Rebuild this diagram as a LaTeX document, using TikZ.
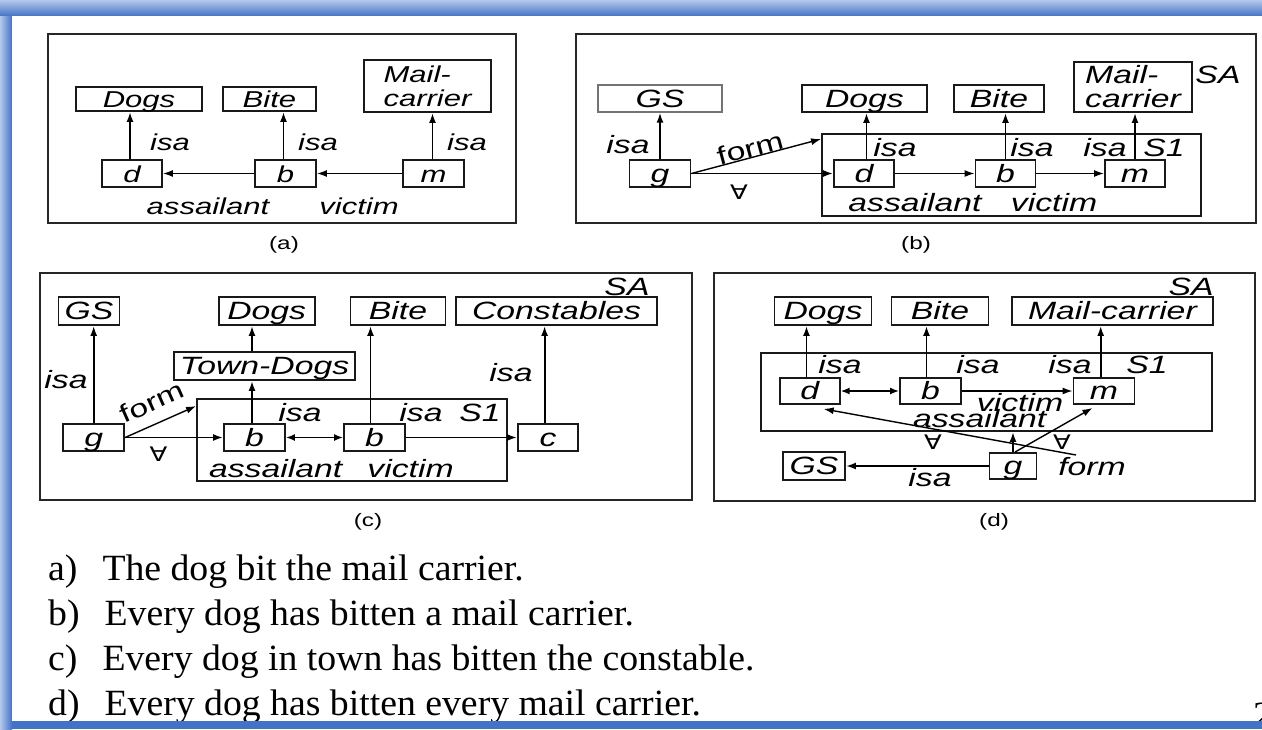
\documentclass[tikz,border=0pt]{standalone}
\usepackage{fontspec}
\setmainfont{Liberation Serif}
\newfontfamily\dfont[FakeStretch=1.35]{Liberation Sans}
\newfontfamily\symfont[FakeStretch=1.3]{DejaVu Sans}
\newfontfamily\sentfont[FakeStretch=1.02]{Liberation Serif}
\usetikzlibrary{arrows.meta,calc}
\definecolor{frameblue}{HTML}{4472C4}
\definecolor{framelight}{HTML}{B4C8EC}
\def\pfs{25}
\begin{document}
\begin{tikzpicture}[x=1pt,y=-1pt,
  bx/.style={draw=black!90, line width=1.9pt, inner sep=0pt, text height=19.5pt, text depth=2pt, font=\dfont\itshape\fontsize{\pfs}{25}\selectfont},
  bx2/.style={draw=black!90, line width=1.9pt, inner sep=0pt, align=left, font=\dfont\itshape\fontsize{\pfs}{24}\selectfont},
  lbl/.style={inner sep=0pt, font=\dfont\itshape\fontsize{\pfs}{25}\selectfont},
  ulbl/.style={inner sep=0pt, font=\dfont\fontsize{\pfs}{25}\selectfont},
  fa/.style={inner sep=0pt, font=\symfont\fontsize{20}{22}\selectfont},
  captxt/.style={inner sep=0pt, font=\dfont\fontsize{18}{20}\selectfont},
  panel/.style={draw=black!85, line width=1.6pt},
  sbox/.style={draw=black!90, line width=1.9pt, inner sep=0pt},
  arr/.style={line width=1.8pt, -{Latex[length=10pt,width=7pt]}},
  tarr/.style={line width=1.4pt, -{Latex[length=10pt,width=7pt]}},
  darr/.style={line width=1.5pt, {Latex[length=9pt,width=7pt]}-{Latex[length=9pt,width=7pt]}},
  sent/.style={anchor=base west, inner sep=0pt, font=\sentfont\fontsize{37}{40}\selectfont}
]
\useasboundingbox (0,0) rectangle (1262,729);
% frame
\fill[frameblue] (0,0) rectangle (1262,729);
\shade[top color=framelight, bottom color=frameblue] (0,0) rectangle (1262,16);
\shade[left color=framelight, right color=frameblue] (0,16) rectangle (12,729);
\fill[white] (12,16) rectangle (1262,721);

% ---------------- panel (a)
\def\pfs{23}
\draw[panel] (48,34) rectangle (516,223);
\node[bx, minimum width=126pt, minimum height=24pt] (aDogs) at (139,99) {Dogs};
\node[bx, minimum width=93pt, minimum height=24pt] (aBite) at (269.5,99) {Bite};
\node[bx2, minimum width=127pt, minimum height=52pt] (aMail) at (427.5,86) {Mail-\\carrier};
\node[bx, minimum width=60pt, minimum height=27pt] (ad) at (132,173.5) {d};
\node[bx, minimum width=61pt, minimum height=27pt] (ab) at (285.5,173.5) {b};
\node[bx, minimum width=61pt, minimum height=27pt] (am) at (433.5,173.5) {m};
\draw[arr] ([xshift=-2pt]ad.north) -- ([xshift=-2pt]ad.north |- aDogs.south);
\draw[arr] ([xshift=-2pt]ab.north) -- ([xshift=-2pt]ab.north |- aBite.south);
\draw[arr] ([xshift=-1pt]am.north) -- ([xshift=-1pt]am.north |- aMail.south);
\node[lbl] (aisa1) at (170,142) {isa};
\node[lbl] (aisa2) at (318,142) {isa};
\node[lbl] (aisa3) at (467,142) {isa};
\draw[tarr] (ab.west) -- (ad.east);
\draw[tarr] (am.west) -- (ab.east);
\node[lbl] (aass) at (208,206) {assailant};
\node[lbl] (avic) at (359,206) {victim};
\node[captxt] (capa) at (284,245) {(a)};

% ---------------- panel (b)
\def\pfs{25}
\draw[panel] (576,34) rectangle (1256,223);
\node[bx, draw=black!55, line width=1.3pt, minimum width=124pt, minimum height=27pt] (bGS) at (660,98.5) {GS};
\node[bx, minimum width=125pt, minimum height=27pt] (bDogs) at (864.4,98.5) {Dogs};
\node[bx, minimum width=90pt, minimum height=27pt] (bBite) at (999,98.5) {Bite};
\node[bx2, minimum width=118pt, minimum height=50pt] (bMail) at (1133,87) {Mail-\\carrier};
\node[lbl] (bSA) at (1218,75) {SA};
\node[sbox, minimum width=379pt, minimum height=82pt] (bS1) at (1011.5,175) {};
\node[lbl] (bS1l) at (1164,148) {S1};
\node[bx, minimum width=61pt, minimum height=27pt] (bg) at (660,173.5) {g};
\node[bx, minimum width=60pt, minimum height=27pt] (bd) at (864,173.5) {d};
\node[bx, minimum width=60pt, minimum height=27pt] (bb) at (1005.5,173.5) {b};
\node[bx, minimum width=60pt, minimum height=27pt] (bm) at (1135,173.5) {m};
\draw[arr] (bg.north) -- (bg.north |- bGS.south);
\draw[arr] ([xshift=2.5pt]bd.north) -- ([xshift=2.5pt]bd.north |- bDogs.south);
\draw[arr] (bb.north) -- (bb.north |- bBite.south);
\draw[arr] (bm.north) -- (bm.north |- bMail.south);
\node[lbl] (bisa0) at (628,145) {isa};
\node[lbl] (bisa1) at (895,148) {isa};
\node[lbl] (bisa2) at (1032,148) {isa};
\node[lbl] (bisa3) at (1105,148) {isa};
\coordinate (bfe) at ($(bS1.north west)+(0,6)$);
\draw[tarr] (bg.east) -- (bfe);
\node[ulbl, rotate=15] (bform) at (750,148) {form};
\draw[arr] (bg.east) -- (bd.west);
\node[fa] (bfa) at (739,192) {∀};
\draw[tarr] (bd.east) -- (bb.west);
\draw[tarr] (bb.east) -- (bm.west);
\node[lbl] (bass) at (915,203) {assailant};
\node[lbl] (bvic) at (1054,203) {victim};
\node[captxt] (capb) at (916,245) {(b)};

% ---------------- panel (c)
\draw[panel] (40,273) rectangle (692,500);
\node[lbl] (cSA) at (627,287) {SA};
\node[bx, minimum width=61pt, minimum height=28pt] (cGS) at (89,311) {GS};
\node[bx, minimum width=96pt, minimum height=28pt] (cDogs) at (266.7,311) {Dogs};
\node[bx, minimum width=95pt, minimum height=28pt] (cBite) at (398,311) {Bite};
\node[bx, minimum width=201pt, minimum height=28pt] (cCon) at (556.5,311) {Constables};
\node[bx, minimum width=181pt, minimum height=28pt] (cTD) at (264.5,366) {Town-Dogs};
\node[sbox, minimum width=310pt, minimum height=82pt] (cS1) at (352,440) {};
\node[lbl] (cisa1) at (300,413) {isa};
\node[lbl] (cisa2) at (421,413) {isa};
\node[lbl] (cS1l) at (480,413) {S1};
\node[bx, minimum width=61pt, minimum height=27pt] (cg) at (93.7,437.5) {g};
\node[bx, minimum width=61pt, minimum height=27pt] (cb1) at (254.5,437.5) {b};
\node[bx, minimum width=61pt, minimum height=27pt] (cb2) at (374.5,437.5) {b};
\node[bx, minimum width=60pt, minimum height=27pt] (cc) at (548,437.5) {c};
\draw[arr] (cg.north) -- (cg.north |- cGS.south);
\draw[arr] ([xshift=-2.5pt]cb1.north) -- ([xshift=-2.5pt]cb1.north |- cTD.south);
\draw[arr] ([xshift=-2.5pt]cb1.north |- cTD.north) -- ([xshift=-2.5pt]cb1.north |- cDogs.south);
\draw[arr] ([xshift=-4pt]cb2.north) -- ([xshift=-4pt]cb2.north |- cBite.south);
\draw[arr] ([xshift=-3.4pt]cc.north) -- ([xshift=-3.4pt]cc.north |- cCon.south);
\node[lbl] (cisa0) at (66,380) {isa};
\node[lbl] (cisa3) at (511,373) {isa};
\coordinate (cfe) at ($(cS1.north west)+(0,8)$);
\draw[tarr] (cg.east) -- (cfe);
\node[ulbl, rotate=24] (cform) at (152,402) {form};
\draw[arr] (cg.east) -- (cb1.west);
\node[fa] (cfa) at (158.5,454) {∀};
\draw[darr] (cb1.east) -- (cb2.west);
\draw[arr] (cb2.east) -- (cc.west);
\node[lbl] (cass) at (275.7,469) {assailant};
\node[lbl] (cvic) at (410.6,469) {victim};
\node[captxt] (capc) at (368,522) {(c)};

% ---------------- panel (d)
\draw[panel] (714,273) rectangle (1255,501);
\node[lbl] (dSA) at (1191,287) {SA};
\node[bx, minimum width=97pt, minimum height=28pt] (dDogs) at (823,311) {Dogs};
\node[bx, minimum width=97pt, minimum height=28pt] (dBite) at (940,311) {Bite};
\node[bx, minimum width=201pt, minimum height=28pt] (dMail) at (1112.4,311) {Mail-carrier};
\node[sbox, minimum width=451pt, minimum height=78pt] (dS1) at (986.5,392) {};
\node[lbl] (dS1l) at (1147,365) {S1};
\node[bx, minimum width=60pt, minimum height=26pt] (dd) at (809.7,391) {d};
\node[bx, minimum width=61pt, minimum height=26pt] (db) at (930.5,391) {b};
\node[bx, minimum width=61pt, minimum height=26pt] (dm) at (1104,391) {m};
\draw[arr] ([xshift=-3.2pt]dd.north) -- ([xshift=-3.2pt]dd.north |- dDogs.south);
\draw[arr] ([xshift=-4pt]db.north) -- ([xshift=-4pt]db.north |- dBite.south);
\draw[arr] ([xshift=-3.3pt]dm.north) -- ([xshift=-3.3pt]dm.north |- dMail.south);
\node[lbl] (disa1) at (840,365) {isa};
\node[lbl] (disa2) at (978,365) {isa};
\node[lbl] (disa3) at (1070,365) {isa};
\draw[darr] (dd.east) -- (db.west);
\draw[tarr] (db.east) -- (dm.west);
\node[lbl] (dvic) at (1020,403) {victim};
\node[lbl] (dass) at (979.6,419) {assailant};
\node[bx, minimum width=47pt, minimum height=26pt] (dg) at (1013,466) {g};
\node[bx, minimum width=62pt, minimum height=28pt] (dGS) at (814,466) {GS};
\draw[arr] (dg.west) -- (dGS.east);
\node[lbl] (disa0) at (930,478) {isa};
\draw[arr] (dg.north) -- (dg.north |- dS1.south);
\coordinate (dfe) at (1076,455);
\draw[tarr] (dfe) -- ($(dd.south)+(14,4)$);
\draw[tarr] ($(dg.north)+(2,0)$) -- ($(dm.south)+(-11.5,3)$);
\node[fa] (dfa1) at (933,442) {∀};
\node[fa] (dfa2) at (1062,442) {∀};
\node[lbl] (dform) at (1092,467) {form};
\node[captxt] (capd) at (994,522) {(d)};

% ---------------- sentences
\node[sent] (s1) at (48,580) {a)\hspace{25pt}The dog bit the mail carrier.};
\node[sent] (s2) at (48,625) {b)\hspace{25pt}Every dog has bitten a mail carrier.};
\node[sent] (s3) at (48,670) {c)\hspace{25pt}Every dog in town has bitten the constable.};
\node[sent] (s4) at (48,715) {d)\hspace{25pt}Every dog has bitten every mail carrier.};
\node[sent] (pg) at (1253,727) {2};
% bottom band drawn over the text descenders
\fill[frameblue] (12,721) rectangle (1262,729);
\end{tikzpicture}
\end{document}
